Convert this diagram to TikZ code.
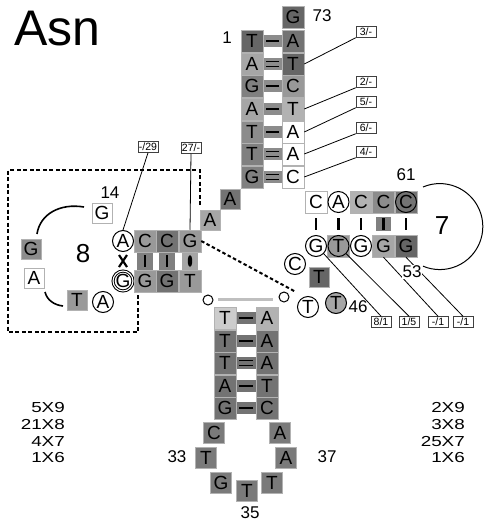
\documentclass[tikz,border=0pt]{standalone}
\usepackage{fontspec}
\setmainfont{Liberation Sans}
\newfontfamily\widef[FakeStretch=1.3]{Liberation Sans}
\newcommand\nucf{\fontsize{19}{19}\selectfont}
\newcommand\labf{\fontsize{10.5}{10.5}\selectfont}
\newcommand\numf{\fontsize{17}{17}\selectfont}
\newcommand\bigf{\fontsize{26}{26}\selectfont}
\newcommand\cntf{\widef\fontsize{14.5}{14.5}\selectfont}
\begin{document}
\begin{tikzpicture}[x=1pt,y=-1pt,
  nb/.style={rectangle,minimum size=22pt,inner sep=0pt,draw=black!30,line width=0.5pt,font=\nucf},
  lb/.style={rectangle,minimum size=21pt,inner sep=0pt,draw=black!30,line width=0.5pt,font=\nucf,fill=black!52},
  nc/.style={circle,minimum size=21pt,inner sep=0pt,draw=black,line width=1pt,font=\nucf,fill=white},
  lab/.style={rectangle,draw=black!75,line width=0.5pt,fill=white,inner xsep=1.2pt,inner ysep=1pt,minimum width=20pt,minimum height=11pt,font=\labf},
  num/.style={font=\numf,inner sep=0pt},
  cnt/.style={font=\cntf,inner sep=0pt},
  bond/.style={line width=2.4pt,shorten <=3pt,shorten >=3pt},
  dbond/.style={line width=1.5pt,shorten <=3pt,shorten >=3pt},
  ptr/.style={line width=0.8pt},
  hatch/.style={line width=2.3pt,dash pattern=on 4pt off 2.5pt},
  sm/.style={circle,draw=black,line width=1pt,minimum size=10pt,inner sep=0pt,fill=white}
]
\useasboundingbox (0,0) rectangle (485,522);

% title
\node[font=\fontsize{50}{50}\selectfont,anchor=base west,inner sep=0pt] (title) at (14,45) {Asn};

% ---------------- acceptor stem ----------------
\foreach \y in {41,64,86,109,132,154,177}{
  \fill[black!45] (263,{\y-6}) rectangle (282,{\y+6});
}
\node[nb,fill=black!60] (b0) at (293,17) {G};
\foreach \n/\y/\l/\g in {1/41/T/60,2/64/A/35,3/86/G/50,4/109/A/35,5/132/T/45,6/154/T/50,7/177/G/50}{
  \node[nb,fill=black!\g] (a\n) at (252,\y) {\l};
}
\foreach \n/\y/\l/\g in {1/41/A/55,2/64/T/60,3/86/C/40,4/109/T/30,5/132/A/0,6/154/A/0,7/177/C/0}{
  \node[nb,fill=black!\g] (b\n) at (293,\y) {\l};
}
\foreach \n in {1,3,4,5}{ \draw[bond] (a\n) -- (b\n); }
\foreach \n in {2,6,7}{
  \draw[dbond] ([yshift=2.3pt]a\n.east) -- ([yshift=2.3pt]b\n.west);
  \draw[dbond] ([yshift=-2.3pt]a\n.east) -- ([yshift=-2.3pt]b\n.west);
}
\node[num] (n1) at (227,38) {1};
\node[num] (n73) at (322,16) {73};

\node[lab] (l3) at (366,32) {3/-};
\node[lab] (l2) at (366,82) {2/-};
\node[lab] (l5) at (366,102) {5/-};
\node[lab] (l6) at (366,128) {6/-};
\node[lab] (l4) at (366,152) {4/-};
\draw[ptr] (l3.south west) -- (b2.east);
\draw[ptr] (l2.south west) -- (b4.east);
\draw[ptr] (l5.south west) -- (b5.east);
\draw[ptr] (l6.south west) -- (b6.east);
\draw[ptr] (l4.south west) -- (b7.east);

% connector A A
\node[nb,fill=black!55,minimum size=20pt] (c8) at (230,199) {A};
\node[nb,fill=black!35,minimum size=20pt] (c9) at (210,220) {A};

% ---------------- D arm ----------------
\draw[hatch] (200,205) -- (200,170) -- (8,170) -- (8,332) -- (138,332) -- (138,291);
\fill[black!50] (137,252) rectangle (153,270);
\fill[black!50] (159,252) rectangle (175,270);
\fill[black!35] (182,252) rectangle (198,270);
\node[nc] (dt1) at (123,241) {A};
\node[nb,fill=black!40] (dt2) at (145,241) {C};
\node[nb,fill=black!55] (dt3) at (167,241) {C};
\node[nb,fill=black!40] (dt4) at (190,241) {G};
\node[nc,double,double distance=1.1pt,minimum size=19pt] (db1) at (123,281) {G};
\node[nb,fill=black!40] (db2) at (145,281) {G};
\node[nb,fill=black!55] (db3) at (167,281) {G};
\node[nb,fill=black!40] (db4) at (190,281) {T};
\draw[line width=2.2pt] (119,255) -- (127,267) (127,255) -- (119,267);
\draw[bond] (dt2) -- (db2);
\draw[bond] (dt3) -- (db3);
\fill (190,261) ellipse [x radius=2.2pt, y radius=6pt];

\node[lab] (l29) at (148,147) {-/29};
\node[lab] (l27) at (191,148) {27/-};
\draw[ptr] (l29.south) -- (dt1.north);
\draw[ptr] (l27.south) -- (dt4.north);

\node[num] (n14) at (110,193) {14};
\node[font=\bigf,inner sep=0pt] (n8) at (83,254) {8};
\node[nb,fill=white,minimum size=20pt] (d14) at (102,213) {G};
\node[nb,fill=black!45,minimum size=20pt] (d15) at (31,249) {G};
\node[nb,fill=white,minimum size=20pt] (d16) at (34,278) {A};
\node[nb,fill=black!40,minimum size=20pt] (d17) at (77,300) {T};
\node[nc] (d18) at (103,302) {A};
\coordinate (arc1s) at (84,207);
\coordinate (arc1e) at (37,234);
\coordinate (arc2s) at (45,292);
\coordinate (arc2e) at (63,306);
\draw[line width=1.6pt] (arc1s) .. controls (60,203) and (40,214) .. (arc1e);
\draw[line width=1.6pt] (arc2s) .. controls (47,300) and (54,305) .. (arc2e);

% tertiary dashed line
\coordinate (tend) at (296,292);
\draw[hatch,line width=2pt,dash pattern=on 3.5pt off 2.5pt] (dt4.east) -- (tend);

% ---------------- T arm ----------------
\fill[black!50] (376,217) rectangle (391,231);
\node[nb,fill=white] (tt1) at (316,202) {C};
\node[nc] (tt2) at (338.5,202) {A};
\node[nb,fill=black!30] (tt3) at (361,202) {C};
\node[nb,fill=black!45] (tt4) at (383.5,202) {C};
\node[nb,fill=black!55] (tt5b) at (406,202) {};
\node[nc,fill=black!55] (tt5) at (406,202) {C};
\node[nc] (tb1) at (316,246) {G};
\node[nb,fill=black!40] (tb2b) at (338.5,246) {};
\node[nc,fill=black!40] (tb2) at (338.5,246) {T};
\node[nc] (tb3) at (361,246) {G};
\node[nb,fill=black!35] (tb4) at (383.5,246) {G};
\node[nb,fill=black!60] (tb5) at (406,246) {G};
\foreach \n in {1,2,3,5}{ \draw[line width=2.4pt,shorten <=5pt,shorten >=5pt] (tt\n) -- (tb\n); }
\draw[line width=3.2pt,shorten <=5pt,shorten >=5pt] (tt4) -- (tb4);

\node[num] (n61) at (406,175) {61};
\node[font=\bigf,inner sep=0pt] (n7) at (442,226) {7};
\coordinate (loops) at (423,187);
\draw[line width=1pt] (loops) arc[start angle=113, end angle=-113, radius=43pt];

\node[lab] (l81) at (381,322) {8/1};
\node[lab] (l15) at (409,322) {1/5};
\node[lab] (l1a) at (438,322) {-/1};
\node[lab] (l1b) at (463,322) {-/1};
\draw[ptr] (tb1.south east) -- (l81.north);
\draw[ptr] (tb2.south east) -- (l15.north);
\draw[ptr] (tb4.south) -- (l1a.north);
\draw[ptr] (tb5.south) -- (l1b.north);
\node[num,fill=white,inner sep=1pt] (n53) at (412,272) {53};

\node[nc] (t1) at (295,264) {C};
\node[nb,fill=black!60,minimum size=20pt] (t2) at (319,277) {T};
\node[nc] (t3) at (308,307) {T};
\node[nc,fill=black!35] (t4) at (336,303) {T};
\node[num] (n46) at (358,307) {46};

% ---------------- anticodon arm ----------------
\node[sm] (o1) at (208,300) {};
\node[sm] (o2) at (284,297) {};
\fill[black!25] (218,297.5) rectangle (273,301);

\foreach \y in {318,341,363,386,408}{
  \fill[black!55] (236,{\y-6}) rectangle (256,{\y+6});
}
\foreach \n/\y/\l/\g in {1/318/T/20,2/341/T/55,3/363/T/55,4/386/A/55,5/408/G/55}{
  \node[nb,fill=black!\g] (x\n) at (225,\y) {\l};
}
\foreach \n/\y/\l/\g in {1/318/A/30,2/341/A/55,3/363/A/55,4/386/T/55,5/408/C/55}{
  \node[nb,fill=black!\g] (y\n) at (267,\y) {\l};
}
\foreach \n in {1,2,4,5}{ \draw[bond] (x\n) -- (y\n); }
\draw[dbond] ([yshift=2.3pt]x3.east) -- ([yshift=2.3pt]y3.west);
\draw[dbond] ([yshift=-2.3pt]x3.east) -- ([yshift=-2.3pt]y3.west);

\node[lb] (k32) at (214,433) {C};
\node[lb] (k33) at (206,458) {T};
\node[lb] (k34) at (221,483) {G};
\node[lb] (k35) at (247,491) {T};
\node[lb] (k36) at (272,483) {T};
\node[lb] (k37) at (286,458) {A};
\node[lb] (k38) at (280,433) {A};
\node[num] (n33) at (177,457) {33};
\node[num] (n37) at (327,457) {37};
\node[num] (n35) at (250,513) {35};

% ---------------- counts ----------------
\node[cnt,anchor=east] (cl1) at (65,408) {5X9};
\node[cnt,anchor=east] (cl2) at (65,425) {21X8};
\node[cnt,anchor=east] (cl3) at (65,442) {4X7};
\node[cnt,anchor=east] (cl4) at (65,458) {1X6};
\node[cnt,anchor=east] (cr1) at (465,408) {2X9};
\node[cnt,anchor=east] (cr2) at (465,425) {3X8};
\node[cnt,anchor=east] (cr3) at (465,442) {25X7};
\node[cnt,anchor=east] (cr4) at (465,458) {1X6};
\end{tikzpicture}
\end{document}
